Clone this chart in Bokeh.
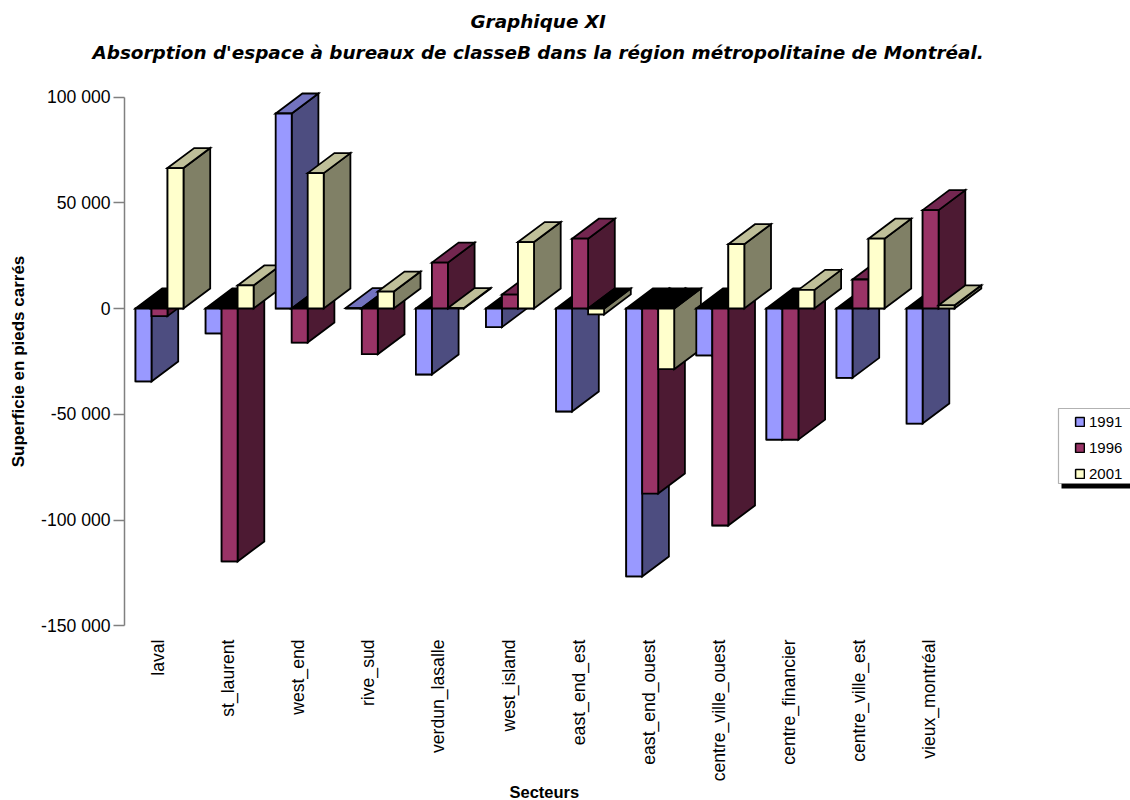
from math import pi

from bokeh.embed import file_html
from bokeh.models import BoxAnnotation, ColumnDataSource, FixedTicker, Legend, LegendItem, Range1d, Title
from bokeh.plotting import figure
from bokeh.resources import INLINE

# Absorption figures per sector, in square feet
sectors = ["laval", "st_laurent", "west_end", "rive_sud", "verdun_lasalle", "west_island",
           "east_end_est", "east_end_ouest", "centre_ville_ouest", "centre_financier",
           "centre_ville_est", "vieux_montréal"]
years = ["1991", "1996", "2001"]
values_1991 = [-34500, -11800, 92200, 200, -31200, -8800, -48700, -126700, -22200, -62000, -32800, -54400]
values_1996 = [-3600, -119600, -16100, -21600, 21700, 6600, 33000, -87500, -102600, -62000, 13700, 46500]
values_2001 = [66400, 10900, 64000, 8000, 200, 31400, -2800, -28700, 30400, 8800, 33000, 1500]
y_ticks = [100000, 50000, 0, -50000, -100000, -150000]
y_tick_labels = ["100 000", "50 000", "0", "-50 000", "-100 000", "-150 000"]

front_colors = ["#9999FF", "#993366", "#FFFFCC"]
side_colors = ["#4D4D80", "#4D1A33", "#808066"]
top_colors = ["#7373BF", "#732650", "#BFBF99"]

# Page geometry, in pixels
FRAME_LEFT, FRAME_RIGHT, FRAME_TOP, FRAME_BOTTOM = 124, 1130, 90, 632
ZERO_PX = 308
PX_PER_UNIT_Y = 2.115 / 1000
PX_PER_CATEGORY = 70.1
FIRST_TICK_PX = 157.5

bar_w = 16 / PX_PER_CATEGORY
group_start = -22.5 / PX_PER_CATEGORY
depth_x = 26.7 / PX_PER_CATEGORY
depth_y = 20 / PX_PER_UNIT_Y

p = figure(width=1130, height=800, output_backend="svg", toolbar_location=None,
           min_border_left=FRAME_LEFT, min_border_right=1130 - FRAME_RIGHT,
           min_border_top=FRAME_TOP, min_border_bottom=800 - FRAME_BOTTOM,
           x_range=Range1d((FRAME_LEFT - FIRST_TICK_PX) / PX_PER_CATEGORY + 1,
                           (FRAME_RIGHT - FIRST_TICK_PX) / PX_PER_CATEGORY + 1),
           y_range=Range1d((ZERO_PX - FRAME_BOTTOM) / PX_PER_UNIT_Y,
                           (ZERO_PX - FRAME_TOP) / PX_PER_UNIT_Y))
p.outline_line_color = None
p.xgrid.visible = False
p.ygrid.visible = False

all_series = [values_1991, values_1996, values_2001]
centers = list(range(1, len(sectors) + 1))

# Front faces per year; these carry the legend and are repainted in order below
swatches = []
for s, series in enumerate(all_series):
    left = [c + group_start + s * bar_w for c in centers]
    right = [x + bar_w for x in left]
    swatches.append(p.quad(left=left, right=right, top=[max(v, 0) for v in series],
                           bottom=[min(v, 0) for v in series], fill_color=front_colors[s],
                           line_color="#000000", line_width=1.5))

# Each bar: side face, top face, front face, painted back to front
xs, ys, fills = [], [], []
for i in range(len(sectors)):
    for s, series in enumerate(all_series):
        v = series[i]
        x0 = centers[i] + group_start + s * bar_w
        x1 = x0 + bar_w
        level = max(v, 0)
        xs.append([x1, x1 + depth_x, x1 + depth_x, x1])
        ys.append([v, v + depth_y, depth_y, 0])
        fills.append(side_colors[s])
        xs.append([x0, x0 + depth_x, x1 + depth_x, x1])
        ys.append([level, level + depth_y, level + depth_y, level])
        fills.append(top_colors[s] if v >= 0 else "#000000")
        xs.append([x0, x1, x1, x0])
        ys.append([0, 0, v, v])
        fills.append(front_colors[s])

p.patches("xs", "ys", source=ColumnDataSource(dict(xs=xs, ys=ys, fill=fills)),
          fill_color="fill", line_color="#000000", line_width=1.8, line_join="miter")

# Vertical axis
ax = p.yaxis[0]
ax.ticker = FixedTicker(ticks=y_ticks)
ax.major_label_overrides = dict(zip(y_ticks, y_tick_labels))
ax.bounds = (min(y_ticks), max(y_ticks))
ax.axis_line_color = "#808080"
ax.axis_line_width = 1.5
ax.major_tick_line_color = "#808080"
ax.major_tick_line_width = 1.5
ax.major_tick_in = 0
ax.major_tick_out = 11
ax.minor_tick_line_color = None
ax.major_label_standoff = 3
ax.major_label_text_font = "Liberation Sans"
ax.major_label_text_font_size = "17.6px"
ax.major_label_text_color = "#000000"
ax.axis_label = "Superficie en pieds carrés"
ax.axis_label_text_font = "Liberation Sans"
ax.axis_label_text_font_style = "bold"
ax.axis_label_text_font_size = "17px"
ax.axis_label_text_color = "#000000"
ax.axis_label_standoff = 10

# Horizontal axis: rotated sector names only
bx = p.xaxis[0]
bx.ticker = FixedTicker(ticks=centers)
bx.major_label_overrides = dict(zip(centers, sectors))
bx.major_label_orientation = pi / 2
bx.axis_line_color = None
bx.major_tick_line_color = None
bx.minor_tick_line_color = None
bx.major_label_standoff = 1
bx.major_label_text_font = "Liberation Sans"
bx.major_label_text_font_size = "17.6px"
bx.major_label_text_color = "#000000"


def side_title(text, left_px, place, font, size, style, standoff):
    p.add_layout(Title(text=text, align="left", offset=left_px - FRAME_LEFT, standoff=standoff,
                       text_font=font, text_font_size=size, text_font_style=style,
                       text_color="#000000"), place)


side_title("Absorption d'espace à bureaux de classeB dans la région métropolitaine de Montréal.",
           92, "above", "DejaVu Sans", "18.4px", "bold italic", 55)
side_title("Graphique XI", 470, "above", "DejaVu Sans", "18.4px", "bold italic", -39)
side_title("Secteurs", 509, "below", "Liberation Sans", "16.5px", "bold", -8)

# Legend box with its dropped shadow; the entries sit on top without a border of their own
p.add_layout(BoxAnnotation(left=1061 - FRAME_LEFT, right=1135 - FRAME_LEFT,
                           bottom=FRAME_BOTTOM - 488, top=FRAME_BOTTOM - 483,
                           left_units="screen", right_units="screen", bottom_units="screen", top_units="screen",
                           fill_color="#000000", fill_alpha=1, line_color=None))
p.add_layout(BoxAnnotation(left=1058 - FRAME_LEFT, right=1135 - FRAME_LEFT,
                           bottom=FRAME_BOTTOM - 483, top=FRAME_BOTTOM - 408,
                           left_units="screen", right_units="screen", bottom_units="screen", top_units="screen",
                           fill_color="#FFFFFF", fill_alpha=1, line_color="#000000", line_width=1.2))

legend = Legend(items=[LegendItem(label=y, renderers=[r]) for y, r in zip(years, swatches)],
                location=(1074 - FRAME_LEFT, FRAME_BOTTOM - 483), margin=0, padding=4,
                spacing=6, glyph_width=11, glyph_height=11, label_height=20, label_width=30,
                label_standoff=4, border_line_color=None, background_fill_alpha=0,
                label_text_font="Liberation Sans", label_text_font_size="15px", label_text_color="#000000")
p.add_layout(legend)

open("out.html", "w").write(file_html(p, INLINE))
